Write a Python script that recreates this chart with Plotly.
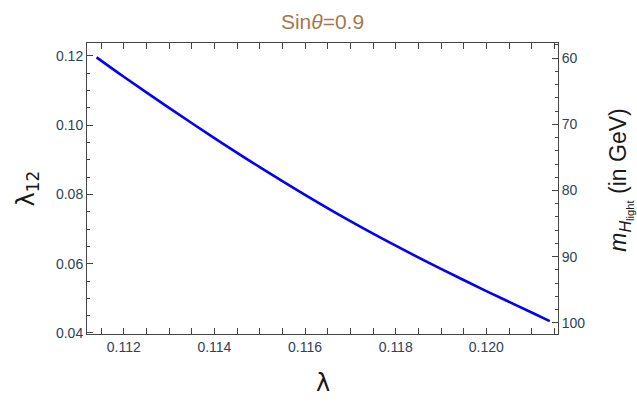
import plotly.graph_objects as go

# lambda (x) and lambda_12 (left axis) along the curve
lam = [0.1114, 0.1120, 0.1130, 0.1140, 0.1150, 0.1160, 0.1170, 0.1180,
       0.1190, 0.1200, 0.1210, 0.1214]
lam12 = [0.1196, 0.1140, 0.1050, 0.0963, 0.0879, 0.0799, 0.0723, 0.0652,
         0.0585, 0.0521, 0.0459, 0.0434]

# light Higgs mass scale on the right axis (GeV)
mh_ticks = [60, 70, 80, 90, 100]
mh_range = [101.7, 57.7]

x_ticks = [0.112, 0.114, 0.116, 0.118, 0.120]
y_ticks = [0.04, 0.06, 0.08, 0.10, 0.12]

tick_font = dict(family="Liberation Sans, Arial, sans-serif", size=14, color="#2e4257")
axis_col = "#444444"

fig = go.Figure()
fig.add_trace(go.Scatter(x=lam, y=lam12, mode="lines",
                         line=dict(color="#0000ff", width=2.6, shape="spline", smoothing=0.8),
                         showlegend=False, hoverinfo="skip"))
# invisible trace that carries the mass axis
fig.add_trace(go.Scatter(x=[lam[0], lam[-1]], y=[mh_ticks[0], mh_ticks[-1]], yaxis="y2",
                         mode="lines", line=dict(width=0), opacity=0,
                         showlegend=False, hoverinfo="skip"))

fig.update_layout(
    width=637, height=402,
    margin=dict(l=87, r=79, t=43, b=68),
    paper_bgcolor="white", plot_bgcolor="white",
    title=dict(text="Sin<i>θ</i>=0.9", x=0.5, xref="paper", y=0.945, yref="container",
               xanchor="center", yanchor="middle",
               font=dict(family="Liberation Sans, Arial, sans-serif", size=21, color="#a8784a")),
    xaxis=dict(range=[0.111189, 0.121581], tickvals=x_ticks,
               ticktext=[f"{v:.3f}" for v in x_ticks],
               ticks="inside", ticklen=6, tickwidth=1, tickcolor=axis_col,
               minor=dict(dtick=0.0005, ticks="inside", ticklen=3, tickcolor=axis_col),
               showline=True, linecolor=axis_col, linewidth=1, mirror="allticks",
               showgrid=False, zeroline=False, tickfont=tick_font),
    yaxis=dict(range=[0.0397, 0.12375], tickvals=y_ticks,
               ticktext=[f"{v:.2f}" for v in y_ticks],
               ticks="inside", ticklen=6, tickwidth=1, tickcolor=axis_col,
               minor=dict(dtick=0.005, ticks="inside", ticklen=3, tickcolor=axis_col),
               showline=True, linecolor=axis_col, linewidth=1,
               showgrid=False, zeroline=False, tickfont=tick_font),
    yaxis2=dict(overlaying="y", side="right", range=mh_range, tickvals=mh_ticks,
                ticks="inside", ticklen=6, tickwidth=1, tickcolor=axis_col,
                minor=dict(dtick=2, ticks="inside", ticklen=3, tickcolor=axis_col),
                showline=True, linecolor=axis_col, linewidth=1,
                showgrid=False, zeroline=False, tickfont=tick_font),
)

label_font = dict(family="DejaVu Sans, sans-serif", size=24, color="#1a1a1a")
fig.add_annotation(text="λ", xref="paper", yref="paper", x=0.5, y=0, yshift=-49,
                   showarrow=False, font=label_font, yanchor="middle")
fig.add_annotation(text="λ<sub>12</sub>", xref="paper", yref="paper", x=0, y=0.5,
                   xshift=-60, showarrow=False, textangle=-90, font=label_font,
                   xanchor="center", yanchor="middle")
fig.add_annotation(text="<i>m</i><sub><i>H</i><sub>light</sub></sub> (in GeV)",
                   xref="paper", yref="paper", x=1, y=0.53, xshift=63, showarrow=False,
                   textangle=-90, font=dict(family="Liberation Sans, Arial, sans-serif",
                                            size=23, color="#1a1a1a"),
                   xanchor="center", yanchor="middle")

fig.write_html("out.html")
